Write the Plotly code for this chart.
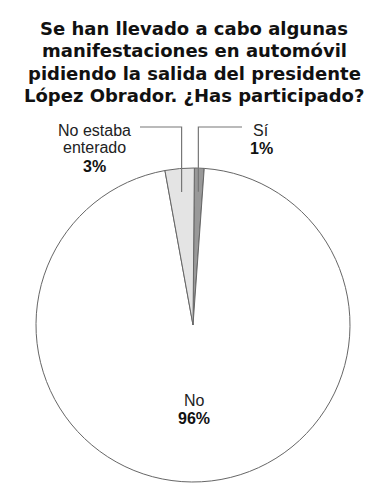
import math
import plotly.graph_objects as go

# Data
labels = ["Sí", "No", "No estaba enterado"]
values = [1, 96, 3]
label_lines = [["Sí"], ["No"], ["No estaba", "enterado"]]
colors = ["#999999", "#ffffff", "#e4e4e4"]

title_lines = [
    "Se han llevado a cabo algunas",
    "manifestaciones en automóvil",
    "pidiendo la salida del presidente",
    "López Obrador. ¿Has participado?",
]

W, H = 388, 500
# pie geometry (pixels)
cx, cy, R = 193, 325, 157
rotation = 0.5

fig = go.Figure(go.Pie(
    labels=labels, values=values, sort=False, direction="clockwise",
    rotation=rotation, textinfo="none", hoverinfo="label+percent",
    marker=dict(colors=colors, line=dict(color="#666666", width=1)),
    domain=dict(x=[(cx - R) / W, (cx + R) / W], y=[1 - (cy + R) / H, 1 - (cy - R) / H]),
    showlegend=False,
))

lab_font = dict(family="Liberation Sans, Arial", size=16, color="#222222")
pct_font = dict(family="Liberation Sans, Arial", size=16, color="#111111")
title_font = dict(family="DejaVu Sans", size=18, color="#111111")


def px(x):
    return x / W


def py(y):
    return 1 - y / H


annotations = []
shapes = []

# title, one annotation per line for tight spacing
for i, t in enumerate(title_lines):
    annotations.append(dict(x=0.5, y=py(28 + 22.5 * i), xref="paper", yref="paper",
                            text=f"<b>{t}</b>", showarrow=False, font=title_font,
                            xanchor="center", yanchor="middle"))

total = sum(values)
cum = 0
# label positions (pixel): (text center x, first line y, leader horizontal end x)
label_pos = {
    "Sí": (261, 130, 242),
    "No estaba enterado": (94, 130, 140),
    "No": (194, 400, None),
}
for lab, val, lines in zip(labels, values, label_lines):
    mid = (cum + val / 2) / total * 360 + rotation
    cum += val
    pct = f"{round(val / total * 100)}%"
    tx, ty, hx = label_pos[lab]
    y = ty
    for ln in lines:
        annotations.append(dict(x=px(tx), y=py(y), xref="paper", yref="paper", text=ln,
                                showarrow=False, font=lab_font, xanchor="center", yanchor="middle"))
        y += 17.5
    annotations.append(dict(x=px(tx), y=py(y + 1), xref="paper", yref="paper", text=f"<b>{pct}</b>",
                            showarrow=False, font=pct_font, xanchor="center", yanchor="middle"))
    if hx is not None:
        r = 0.85 * R
        ex = cx + r * math.sin(math.radians(mid))
        ey = cy - r * math.cos(math.radians(mid))
        hy = 127
        shapes.append(dict(type="path", xref="paper", yref="paper",
                           path=f"M {px(hx)} {py(hy)} L {px(ex)} {py(hy)} L {px(ex)} {py(ey)}",
                           line=dict(color="#777777", width=1.2)))

fig.update_layout(
    width=W, height=H, margin=dict(l=0, r=0, t=0, b=0),
    paper_bgcolor="white", plot_bgcolor="white",
    annotations=annotations, shapes=shapes,
)

fig.write_html("out.html", config={"displayModeBar": False},
               post_script="document.body.style.margin='0';")
